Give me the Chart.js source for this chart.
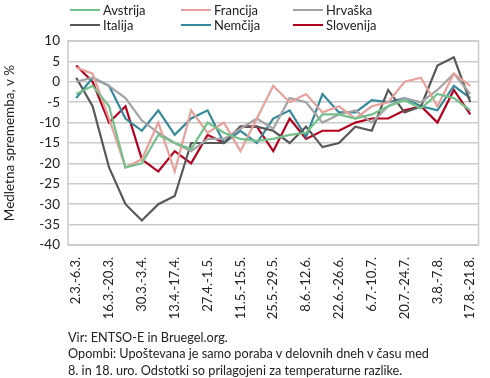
<!DOCTYPE html>
<html lang="sl">
<head>
<meta charset="UTF-8">
<title>Poraba elektrike</title>
<script src="https://cdn.jsdelivr.net/npm/chart.js"></script>
<style>
body { margin: 0; background: #fff; font-family: Lato, 'Open Sans', sans-serif; color: #222; }
#wrap { position: relative; width: 490px; height: 378px; overflow: hidden; }
#chart { position: absolute; left: 0; top: 0; }
#legend { position: absolute; left: 70px; top: 2px; display: grid; grid-template-columns: 111px 112px 120px; }
.item { display: flex; align-items: center; height: 15px; font-size: 13px; white-space: nowrap; }
.item .line { width: 30px; height: 2px; margin-right: 3px; }
#note { position: absolute; left: 68px; top: 329px; font-size: 12.7px; line-height: 16.3px; }
</style>
</head>
<body>
<div id="wrap">
    <canvas id="chart" width="490" height="330"></canvas>
    <div id="legend"></div>
    <div id="note">
        Vir: ENTSO-E in Bruegel.org.<br>
        Opombi: Upoštevana je samo poraba v delovnih dneh v času med<br>
        8. in 18. uro. Odstotki so prilagojeni za temperaturne razlike.
    </div>
</div>
<script>
// tedni (delovni dnevi)
const weeks = ['2.3.-6.3.', '9.3.-13.3.', '16.3.-20.3.', '23.3.-27.3.', '30.3.-3.4.', '6.4.-10.4.',
    '13.4.-17.4.', '20.4.-24.4.', '27.4.-1.5.', '4.5.-8.5.', '11.5.-15.5.', '18.5.-22.5.',
    '25.5.-29.5.', '1.6.-5.6.', '8.6.-12.6.', '15.6.-19.6.', '22.6.-26.6.', '29.6.-3.7.',
    '6.7.-10.7.', '13.7.-17.7.', '20.7.-24.7.', '27.7.-31.7.', '3.8.-7.8.', '10.8.-14.8.', '17.8.-21.8.'];

// medletna sprememba, v %
const avstrija  = [-3, -1, -6, -21, -20, -13, -15, -16.5, -10, -12.5, -14, -14.5, -14, -13, -12.5, -8, -8, -9, -8, -6, -4.5, -6.5, -3, -4, -7];
const francija  = [3.5, 2, -9, -21, -19, -10, -22, -7, -12.5, -10, -17, -9, -1, -5, -3, -7.5, -6, -9, -6, -5, 0, 1, -6, 2, -1];
const hrvaska   = [0, 1, -1, -4, -9.5, -12.5, -15, -17, -14, -14, -11.5, -9, -11.5, -4, -5, -10, -8, -7, -10, -6, -4, -5, -2, 2, -3];
const italija   = [1, -6, -21, -30, -34, -30, -28, -15, -15, -15, -11, -11, -12, -15, -11, -16, -15, -11, -12, -2, -7.5, -6, 4, 6, -5];
const nemcija   = [-4, 1, -1, -9, -12, -7, -13, -9, -7, -15, -12, -15, -9, -7, -13.5, -3, -7.5, -7.5, -4.5, -5, -4, -6, -7, -1, -4];
const slovenija = [4, 0, -10, -6, -19, -22, -17, -20, -13, -15, -11, -11, -17, -9, -14, -12, -12, -10, -9, -9, -7, -6, -10, -2, -8];

const yTicks = [10, 5, 0, -5, -10, -15, -20, -25, -30, -35, -40];

const series = [
    { label: 'Avstrija', data: avstrija, color: '#74c08a' },
    { label: 'Francija', data: francija, color: '#e6a19c' },
    { label: 'Hrvaška', data: hrvaska, color: '#a3a3a3' },
    { label: 'Italija', data: italija, color: '#585858' },
    { label: 'Nemčija', data: nemcija, color: '#35899a' },
    { label: 'Slovenija', data: slovenija, color: '#b4001f' }
];

// legenda
const legend = document.getElementById('legend');
series.forEach(s => {
    const el = document.createElement('div');
    el.className = 'item';
    el.innerHTML = '<span class="line" style="background:' + s.color + '"></span>' + s.label;
    legend.appendChild(el);
});

// okvir okoli grafa
const frame = {
    id: 'frame',
    beforeDatasetsDraw(chart) {
        const a = chart.chartArea, ctx = chart.ctx;
        ctx.save();
        ctx.strokeStyle = '#c9c9c9';
        ctx.lineWidth = 1.5;
        ctx.strokeRect(a.left, a.top, a.right - a.left, a.bottom - a.top);
        ctx.restore();
    }
};

new Chart(document.getElementById('chart'), {
    type: 'line',
    data: {
        labels: weeks,
        datasets: series.map(s => ({
            label: s.label,
            data: s.data,
            borderColor: s.color,
            backgroundColor: s.color,
            borderWidth: 2.2,
            pointRadius: 0,
            tension: 0,
            fill: false
        }))
    },
    options: {
        responsive: false,
        animation: false,
        layout: { padding: { top: 41, right: 6, left: 0, bottom: 0 } },
        plugins: { legend: { display: false }, tooltip: { enabled: false } },
        scales: {
            x: {
                offset: true,
                grid: { display: false },
                border: { display: false },
                afterFit: s => { s.height = 85; },
                ticks: {
                    autoSkip: false,
                    maxRotation: 90,
                    minRotation: 90,
                    padding: 4,
                    color: '#222',
                    font: { family: 'Lato', size: 13 },
                    callback: (v, i) => i % 2 === 0 ? weeks[i] : ''
                }
            },
            y: {
                min: -40,
                max: 10,
                afterFit: s => { s.width = 68; },
                afterBuildTicks: s => { s.ticks = yTicks.map(v => ({ value: v })); },
                grid: { color: '#cbcbcb', lineWidth: 1.5, drawTicks: false },
                border: { display: false },
                ticks: { padding: 8, color: '#222', font: { family: 'Lato', size: 13.5 } },
                title: {
                    display: true,
                    text: 'Medletna sprememba, v %',
                    color: '#222',
                    font: { family: 'Lato', size: 13.5 },
                    padding: { top: 2, bottom: 0 }
                }
            }
        }
    },
    plugins: [frame]
});
</script>
</body>
</html>
